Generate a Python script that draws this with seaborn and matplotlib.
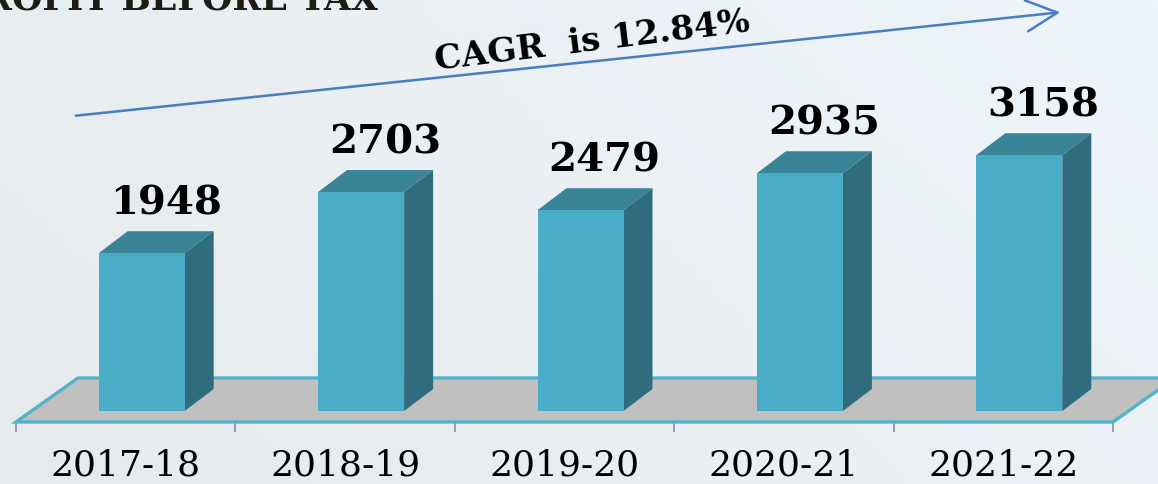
import matplotlib; matplotlib.use("Agg")
import matplotlib.pyplot as plt
from matplotlib.patches import Polygon
from matplotlib.colors import LinearSegmentedColormap
import numpy as np
import pandas as pd
import seaborn as sns

# data
years = ["2017-18", "2018-19", "2019-20", "2020-21", "2021-22"]
profit = [1948, 2703, 2479, 2935, 3158]
title = "PROFIT BEFORE TAX"
cagr_text = "CAGR  is 12.84%"

W, H, DPI = 1158, 484, 100
FRONT, TOP, SIDE = "#4AADC8", "#3A8498", "#2F6C7D"
FLOOR, EDGE, ARROW = "#C0C0C0", "#52B2CA", "#4A7CC0"

sns.set_theme(style="white")
plt.rcParams["font.family"] = ["DejaVu Serif"]

fig = plt.figure(figsize=(W / DPI, H / DPI), dpi=DPI)

# soft background gradient
bg = fig.add_axes([0, 0, 1, 1], zorder=-1)
gx, gy = np.meshgrid(np.linspace(0, 1, 200), np.linspace(0, 1, 100))
bg.imshow(0.7 * gx + 0.3 * gy, extent=[0, 1, 0, 1], aspect="auto", origin="lower",
          cmap=LinearSegmentedColormap.from_list("bg", ["#E6EAED", "#EEF5FA"]))
bg.set_xlim(0, 1); bg.set_ylim(0, 1); bg.axis("off")

# main axes: x from px 16 to 1113, y from top to floor front edge (px 422)
ax = fig.add_axes([16 / W, (H - 422) / H, (1113 - 16) / W, 422 / H])
ax.set_facecolor("none")
xlim = (-0.5, 4.5)
ylim = (-136, 5074)
xpp = (xlim[1] - xlim[0]) / (1113 - 16)     # data x per pixel
ypp = (ylim[1] - ylim[0]) / 422             # data y per pixel

df = pd.DataFrame({"year": years, "profit": profit})
sns.barplot(data=df, x="year", y="profit", color=FRONT, saturation=1,
            width=86 * xpp, ax=ax, zorder=4, linewidth=0)
ax.set_xlim(*xlim); ax.set_ylim(*ylim)

# 3D bits: shift faces, add top and side
bdx, bdy = 29 * xpp, 22 * ypp
for p in ax.patches:
    p.set_x(p.get_x() + 16 * xpp)
    x0, x1, h = p.get_x(), p.get_x() + p.get_width(), p.get_height()
    ax.add_patch(Polygon([(x0, h), (x1, h), (x1 + bdx, h + bdy), (x0 + bdx, h + bdy)],
                         closed=True, facecolor=TOP, edgecolor="none", zorder=3))
    ax.add_patch(Polygon([(x1, 0), (x1 + bdx, bdy), (x1 + bdx, h + bdy), (x1, h)],
                         closed=True, facecolor=SIDE, edgecolor="none", zorder=3))

# floor
fdx, fdy = 62 * xpp, 44 * ypp
ax.add_patch(Polygon([(xlim[0], ylim[0]), (xlim[1], ylim[0]),
                      (xlim[1] + fdx, ylim[0] + fdy), (xlim[0] + fdx, ylim[0] + fdy)],
                     closed=True, facecolor=FLOOR, edgecolor=EDGE, linewidth=2.4,
                     zorder=1, clip_on=False))

# value labels
for i, v in enumerate(profit):
    ax.text(i + 40 * xpp, v + bdy + 9 * ypp, f"{v}", ha="center", va="bottom",
            fontsize=29, fontweight="heavy", color="black", zorder=5)

# ticks: marks at category boundaries, labels at centres
ax.set_xticks(range(len(years)), years)
ax.set_xticks(np.arange(-0.5, len(years)), minor=True)
ax.tick_params(axis="x", which="major", length=0, pad=19, labelsize=26,
               labelcolor="black")
ax.tick_params(axis="x", which="minor", length=7, width=1.3, color="#9490AE",
               bottom=True)
ax.set_yticks([])
ax.set(xlabel="", ylabel="")
sns.despine(ax=ax, left=True, bottom=True)

# CAGR arrow and text
bg.annotate("", xy=(1063 / W, 1 - 12 / H), xytext=(73 / W, 1 - 116 / H),
            xycoords="figure fraction", textcoords="figure fraction",
            arrowprops=dict(arrowstyle="->,head_length=0.8,head_width=0.4",
                            color=ARROW, lw=1.8, mutation_scale=28))
fig.text(592 / W, 1 - 41 / H, cagr_text, rotation=7, rotation_mode="anchor",
         ha="center", va="center", fontsize=24.5, fontweight="bold", color="black")

# title (cut off at top like the slide)
fig.text(378 / W, 1 - 10 / H, title, ha="right", va="baseline", fontsize=25,
         fontweight="bold", color="#1E1A14")

fig.savefig("out.png", dpi=DPI)
